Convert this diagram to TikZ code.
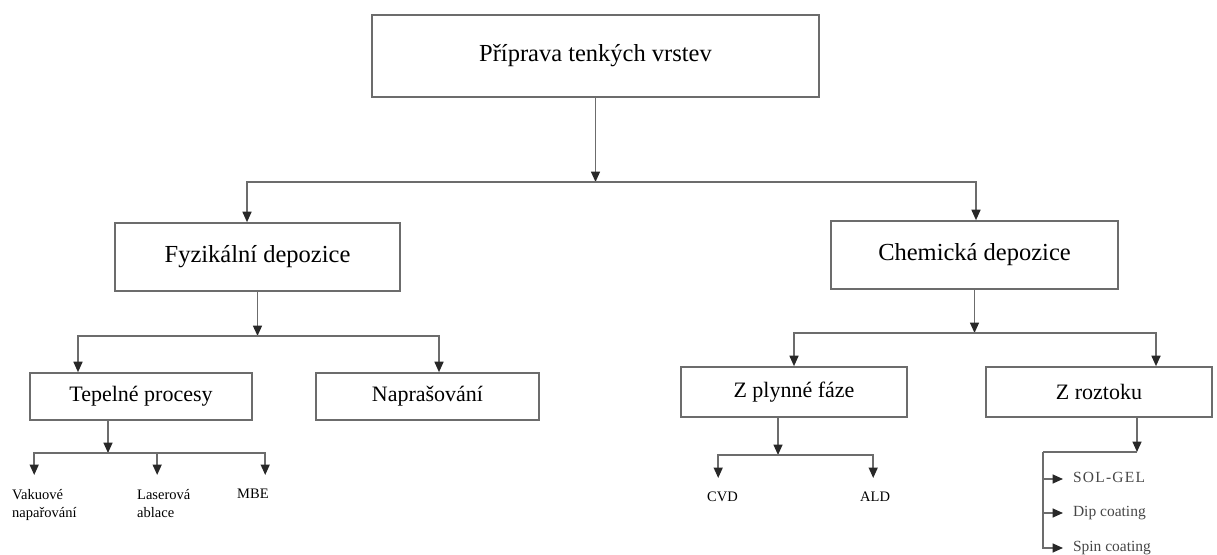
\documentclass[tikz,border=0pt]{standalone}
\usepackage{fontspec}
\setmainfont{Liberation Serif}
\usetikzlibrary{arrows.meta}
\definecolor{linegray}{RGB}{108,108,108}
\definecolor{tipgray}{RGB}{40,40,40}
\definecolor{labelgray}{RGB}{70,70,70}
\tikzset{
  >={Triangle[length=10.5pt,width=9pt,color=tipgray]},
  link/.style={->, line width=1.6pt, draw=linegray},
  wire/.style={line width=1.6pt, draw=linegray},
  rootbox/.style={draw=linegray, line width=1.6pt, inner sep=0pt,
    minimum width=447pt, minimum height=82pt, font=\fontsize{24.5}{29}\selectfont},
  mainbox/.style={draw=linegray, line width=1.6pt, inner sep=0pt,
    minimum width=286pt, minimum height=68pt, font=\fontsize{24.5}{29}\selectfont},
  subbox/.style={draw=linegray, line width=1.6pt, inner sep=0pt,
    minimum width=223pt, minimum height=48pt, font=\fontsize{22}{26}\selectfont},
  leaf/.style={anchor=north west, align=left, inner sep=0pt, outer ysep=14pt,
    font=\fontsize{14.5}{18}\selectfont},
  method/.style={anchor=west, inner sep=0pt, outer xsep=10pt, text height=10.5pt,
    text depth=3pt, text=labelgray, font=\fontsize{15.5}{18}\selectfont}
}

\begin{document}
\begin{tikzpicture}[x=1pt, y=-1pt]
  \useasboundingbox (0,0) rectangle (1217,554);

  % Tree of boxes.
  \node[rootbox] (prep) at (595.5,56) {Příprava tenkých vrstev};
  \node[mainbox, minimum width=285pt] (fyz) at (257.5,257) {Fyzikální depozice};
  \node[mainbox, minimum width=287pt] (chem) at (974.5,255) {Chemická depozice};
  \node[subbox, minimum width=222pt, minimum height=47pt] (tep) at (141,396.5) {Tepelné procesy};
  \node[subbox, minimum height=47pt] (napr) at (427.5,396.5) {Naprašování};
  \node[subbox, minimum width=226pt, minimum height=50pt] (plyn) at (794,392) {Z plynné fáze};
  \node[subbox, minimum width=226pt, minimum height=50pt] (rozt) at (1099,392) {Z roztoku};

  % Leaf labels.
  \node[leaf] (vak) at (12,475) {Vakuové\\napařování};
  \node[leaf] (laser) at (137,475) {Laserová\\ablace};
  \node[leaf] (mbe) at (237,475) {MBE};
  \node[leaf] (cvd) at (707,478) {CVD};
  \node[leaf] (ald) at (860,478) {ALD};
  \node[method] (sol) at (1063,479) {\addfontfeature{LetterSpace=8}SOL-GEL};
  \node[method] (dip) at (1063,513) {Dip coating};
  \node[method] (spin) at (1063,548) {Spin coating};

  % Branch points.
  \coordinate (j1) at (595.5,182);
  \coordinate (j2) at (257.5,336);
  \coordinate (j3) at (108,453);
  \coordinate (j4) at (974.5,333);
  \coordinate (j5) at (778,455);
  \coordinate (j6) at (1137,452);
  \coordinate (spine) at (1043,452);

  % Top level.
  \draw[link] (prep.south) -- (j1);
  \draw[link] (j1) -| ([xshift=-10.5pt]fyz.north);
  \draw[link] (j1) -| ([xshift=1.5pt]chem.north);

  % Physical branch.
  \draw[link] (fyz.south) -- (j2);
  \draw[link] (j2) -| ([xshift=-63pt]tep.north);
  \draw[link] (j2) -| ([xshift=11.5pt]napr.north);
  \draw[link] ([xshift=-33pt]tep.south) -- (j3);
  \draw[link] (j3) -| ([xshift=-10.2pt]vak.north);
  \draw[link] (j3) -| ([xshift=-6.6pt]laser.north);
  \draw[link] (j3) -| ([xshift=12.3pt]mbe.north);

  % Chemical branch.
  \draw[link] (chem.south) -- (j4);
  \draw[link] (j4) -| (plyn.north);
  \draw[link] (j4) -| ([xshift=57pt]rozt.north);
  \draw[link] ([xshift=-16pt]plyn.south) -- (j5);
  \draw[link] (j5) -| ([xshift=-4.3pt]cvd.north);
  \draw[link] (j5) -| ([xshift=-1.9pt]ald.north);
  \draw[link] ([xshift=38pt]rozt.south) -- (j6);
  \draw[wire] (j6) -- (spine);
  \draw[link] (spine) |- (sol.west);
  \draw[link] (spine) |- (dip.west);
  \draw[link] (spine) |- (spin.west);
\end{tikzpicture}
\end{document}
